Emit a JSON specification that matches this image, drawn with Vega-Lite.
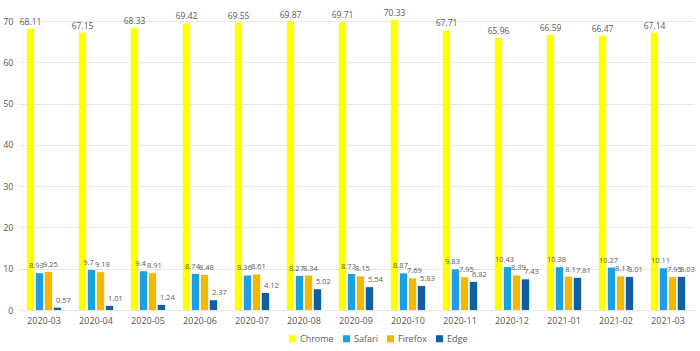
{
  "$schema": "https://vega.github.io/schema/vega-lite/v6.json",
  "width": 676,
  "height": 289,
  "autosize": {"type": "none"},
  "padding": {"left": 18, "top": 21, "right": 6, "bottom": 41},
  "background": "white",
  "config": {
    "view": {"stroke": null},
    "font": "Open Sans",
    "axis": {"labelColor": "#595959", "labelFont": "Open Sans", "labelFontSize": 9}
  },
  "data": {
    "values": [
      {"month": "2020-03", "browser": "Chrome", "share": 68.11},
      {"month": "2020-03", "browser": "Safari", "share": 8.93},
      {"month": "2020-03", "browser": "Firefox", "share": 9.25},
      {"month": "2020-03", "browser": "Edge", "share": 0.57},
      {"month": "2020-04", "browser": "Chrome", "share": 67.15},
      {"month": "2020-04", "browser": "Safari", "share": 9.7},
      {"month": "2020-04", "browser": "Firefox", "share": 9.18},
      {"month": "2020-04", "browser": "Edge", "share": 1.01},
      {"month": "2020-05", "browser": "Chrome", "share": 68.33},
      {"month": "2020-05", "browser": "Safari", "share": 9.4},
      {"month": "2020-05", "browser": "Firefox", "share": 8.91},
      {"month": "2020-05", "browser": "Edge", "share": 1.24},
      {"month": "2020-06", "browser": "Chrome", "share": 69.42},
      {"month": "2020-06", "browser": "Safari", "share": 8.74},
      {"month": "2020-06", "browser": "Firefox", "share": 8.48},
      {"month": "2020-06", "browser": "Edge", "share": 2.37},
      {"month": "2020-07", "browser": "Chrome", "share": 69.55},
      {"month": "2020-07", "browser": "Safari", "share": 8.36},
      {"month": "2020-07", "browser": "Firefox", "share": 8.61},
      {"month": "2020-07", "browser": "Edge", "share": 4.12},
      {"month": "2020-08", "browser": "Chrome", "share": 69.87},
      {"month": "2020-08", "browser": "Safari", "share": 8.27},
      {"month": "2020-08", "browser": "Firefox", "share": 8.34},
      {"month": "2020-08", "browser": "Edge", "share": 5.02},
      {"month": "2020-09", "browser": "Chrome", "share": 69.71},
      {"month": "2020-09", "browser": "Safari", "share": 8.73},
      {"month": "2020-09", "browser": "Firefox", "share": 8.15},
      {"month": "2020-09", "browser": "Edge", "share": 5.54},
      {"month": "2020-10", "browser": "Chrome", "share": 70.33},
      {"month": "2020-10", "browser": "Safari", "share": 8.87},
      {"month": "2020-10", "browser": "Firefox", "share": 7.69},
      {"month": "2020-10", "browser": "Edge", "share": 5.83},
      {"month": "2020-11", "browser": "Chrome", "share": 67.71},
      {"month": "2020-11", "browser": "Safari", "share": 9.83},
      {"month": "2020-11", "browser": "Firefox", "share": 7.95},
      {"month": "2020-11", "browser": "Edge", "share": 6.82},
      {"month": "2020-12", "browser": "Chrome", "share": 65.96},
      {"month": "2020-12", "browser": "Safari", "share": 10.43},
      {"month": "2020-12", "browser": "Firefox", "share": 8.39},
      {"month": "2020-12", "browser": "Edge", "share": 7.43},
      {"month": "2021-01", "browser": "Chrome", "share": 66.59},
      {"month": "2021-01", "browser": "Safari", "share": 10.38},
      {"month": "2021-01", "browser": "Firefox", "share": 8.1},
      {"month": "2021-01", "browser": "Edge", "share": 7.81},
      {"month": "2021-02", "browser": "Chrome", "share": 66.47},
      {"month": "2021-02", "browser": "Safari", "share": 10.27},
      {"month": "2021-02", "browser": "Firefox", "share": 8.17},
      {"month": "2021-02", "browser": "Edge", "share": 8.01},
      {"month": "2021-03", "browser": "Chrome", "share": 67.14},
      {"month": "2021-03", "browser": "Safari", "share": 10.11},
      {"month": "2021-03", "browser": "Firefox", "share": 7.95},
      {"month": "2021-03", "browser": "Edge", "share": 8.03}
    ]
  },
  "encoding": {
    "x": {
      "field": "month", "type": "nominal", "title": null,
      "scale": {"paddingInner": 0.34, "paddingOuter": 0.17},
      "axis": {"labelAngle": 0, "domain": false, "ticks": false, "labelPadding": 6, "grid": false}
    },
    "xOffset": {
      "field": "browser", "type": "nominal",
      "sort": ["Chrome", "Safari", "Firefox", "Edge"],
      "scale": {"domain": ["Chrome", "Safari", "Firefox", "Edge"], "paddingInner": 0.18}
    },
    "y": {
      "field": "share", "type": "quantitative", "title": null,
      "scale": {"domain": [0, 70], "nice": false},
      "axis": {"values": [0, 10, 20, 30, 40, 50, 60, 70], "domain": false, "ticks": false, "labelPadding": 5, "gridColor": "#e6e6e6", "gridWidth": 1}
    }
  },
  "layer": [
    {
      "mark": {"type": "bar"},
      "encoding": {
        "color": {
          "field": "browser", "type": "nominal",
          "sort": ["Chrome", "Safari", "Firefox", "Edge"],
          "scale": {"domain": ["Chrome", "Safari", "Firefox", "Edge"], "range": ["#ffff00", "#1ba1e2", "#f5b800", "#0f5fa3"]},
          "legend": {
            "title": null, "orient": "none", "direction": "horizontal",
            "legendX": 270, "legendY": 313,
            "symbolType": "square", "symbolSize": 50, "symbolStrokeWidth": 0,
            "labelColor": "#595959", "labelFontSize": 9, "labelFont": "Open Sans",
            "columnPadding": 8, "labelOffset": 3
          }
        }
      }
    },
    {
      "transform": [{"filter": "datum.browser === 'Chrome'"}],
      "mark": {"type": "text", "dy": -7, "fontSize": 8.5, "color": "#595959", "font": "Open Sans"},
      "encoding": {"text": {"field": "share", "type": "quantitative"}}
    },
    {
      "transform": [{"filter": "datum.browser === 'Safari'"}],
      "mark": {"type": "text", "dy": -7, "dx": -3, "fontSize": 7.5, "color": "#595959", "font": "Open Sans"},
      "encoding": {"text": {"field": "share", "type": "quantitative"}}
    },
    {
      "transform": [{"filter": "datum.browser === 'Firefox'"}],
      "mark": {"type": "text", "dy": -7, "dx": 2, "fontSize": 7.5, "color": "#595959", "font": "Open Sans"},
      "encoding": {"text": {"field": "share", "type": "quantitative"}}
    },
    {
      "transform": [{"filter": "datum.browser === 'Edge'"}],
      "mark": {"type": "text", "dy": -7, "dx": 6, "fontSize": 7.5, "color": "#595959", "font": "Open Sans"},
      "encoding": {"text": {"field": "share", "type": "quantitative"}}
    }
  ]
}
